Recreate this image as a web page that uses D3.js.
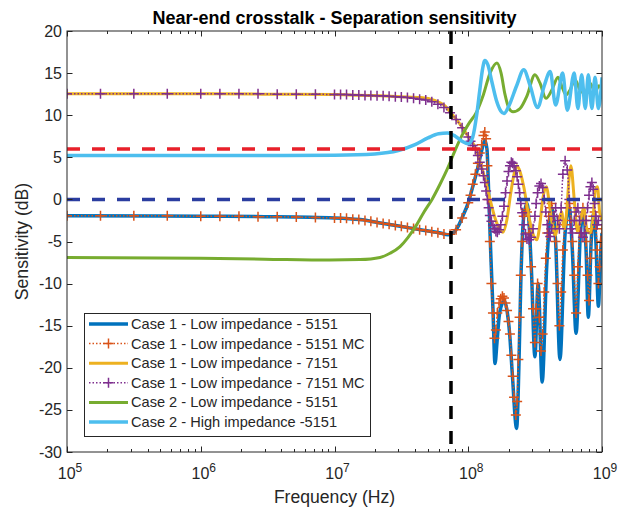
<!DOCTYPE html>
<html><head><meta charset="utf-8">
<script src="https://cdn.jsdelivr.net/npm/d3@7"></script>
<style>body{margin:0;background:#fff}svg{display:block}text{font-family:"Liberation Sans",Arial,Helvetica,sans-serif;fill:#262626}</style>
</head><body><svg id="c" width="626" height="513"></svg>
<script>
// ---------- data ----------
const titleText = "Near-end crosstalk - Separation sensitivity";
const xLabel = "Frequency (Hz)";
const yLabel = "Sensitivity (dB)";
const yTicks = [-30,-25,-20,-15,-10,-5,0,5,10,15,20];
const xDecades = [1e5,1e6,1e7,1e8,1e9];
const xDecadeExp = ["5","6","7","8","9"];
const seriesNames = [
  "Case 1 - Low impedance - 5151",
  "Case 1 - Low impedance - 5151 MC",
  "Case 1 - Low impedance - 7151",
  "Case 1 - Low impedance - 7151 MC",
  "Case 2 - Low impedance - 5151",
  "Case 2 - High impedance -5151"
];
const refLevelRed = 6;
const refLevelBlue = 0;
const refFreq = 7.43e7;

// Case 1 - 5151
const f1 = [1e5,1e6,3e6,1e7,1.55e7,2.2e7,3.1e7,4.4e7,6.2e7,7.06e7,7.7e7,8.4e7,9.1e7,9.95e7,1.08e8,1.18e8,1.26e8,1.33e8,1.38e8,1.42e8,1.47e8,1.53e8,1.585e8,1.64e8,1.7e8,1.8e8,1.85e8,1.94e8,2.04e8,2.14e8,2.3e8,2.39e8,2.47e8,2.6e8,2.75e8,2.96e8,3.15e8,3.33e8,3.57e8,3.86e8,4.2e8,4.5e8,4.85e8,5.3e8,5.7e8,6.0e8,6.4e8,6.9e8,7.3e8,7.6e8,7.9e8,8.3e8,8.7e8,9.0e8,9.4e8,9.8e8,1e9];
const v1 = [-1.95,-2.0,-2.05,-2.2,-2.4,-2.8,-3.2,-3.6,-4.0,-4.2,-4.0,-3.2,-2.0,-0.5,1.5,3.8,5.8,7.0,6.0,1.0,-6,-13,-19.5,-17,-14,-12.3,-12,-13,-16,-21,-27.2,-20,-10,-2,-0.5,-8,-18.7,-10,-21.7,-8,-1,-5,-19,-4,-1,-6,-15.9,-4,-1.5,-6,-14,-5,-1.5,-5,-12.7,-6,-4];

// MC sample frequencies (markers)
const fMC = [1e5,1.78e5,3.16e5,5.62e5,1e6,1.39e6,1.93e6,2.68e6,3.73e6,5.18e6,7.2e6,1e7,
  1.11e7,1.23e7,1.37e7,1.52e7,1.69e7,1.87e7,2.08e7,2.31e7,2.56e7,2.85e7,3.16e7,3.51e7,3.9e7,4.33e7,4.81e7,5.34e7,5.93e7,6.58e7,7.31e7,8.11e7,9.0e7,1e8,
  1.04e8,1.08e8,1.13e8,1.18e8,1.22e8,1.26e8,1.3e8,1.33e8,1.36e8,1.39e8,1.42e8,1.45e8,1.49e8,1.53e8,1.57e8,1.61e8,1.65e8,1.7e8,1.75e8,1.8e8,1.85e8,1.9e8,1.95e8,2.0e8,2.05e8,2.1e8,2.15e8,2.2e8,2.27e8,2.32e8,2.37e8,2.42e8,2.47e8,2.53e8,2.6e8,2.68e8,2.75e8,2.85e8,2.95e8,3.05e8,3.15e8,3.22e8,3.3e8,3.4e8,3.5e8,3.6e8,3.7e8,3.8e8,3.9e8,4.0e8,4.1e8,4.2e8,4.35e8,4.5e8,4.65e8,4.8e8,4.95e8,5.1e8,5.3e8,5.5e8,5.7e8,5.85e8,6.0e8,6.2e8,6.4e8,6.6e8,6.8e8,7.0e8,7.2e8,7.4e8,7.6e8,7.8e8,8.0e8,8.2e8,8.4e8,8.6e8,8.8e8,9.0e8,9.2e8,9.4e8,9.6e8,9.8e8,1e9];
// Case 1 - 5151 MC
const v2 = [-1.95,-1.95,-1.95,-1.95,-2.0,-2.0,-2.0,-2.05,-2.05,-2.1,-2.15,-2.2,
  -2.2,-2.25,-2.35,-2.4,-2.5,-2.6,-2.75,-2.85,-2.95,-3.1,-3.2,-3.35,-3.45,-3.6,-3.7,-3.85,-3.95,-4.1,-4.15,-3.6,-2.2,-0.4,
  0.5,1.8,3.0,4.3,5.5,6.5,7.6,8.0,7.2,4,0,-5,-10,-13.5,-16.5,-15.5,-13.5,-12.3,-11.8,-11.5,-11.7,-12.3,-13.2,-14.5,-16,-18.5,-21,-23.5,-25.6,-24,-19,-14,-9,-5,-2,-1.2,-1.5,-4,-8,-13,-17,-13,-10,-14,-18,-16,-11,-7,-4,-2,-1,-0.5,-2,-5,-10,-15,-11,-6,-3,-1,-0.5,-2.5,-5,-9,-13.5,-8,-4,-2,-1,-2.5,-5,-9,-12,-7,-3.5,-2,-1.5,-3,-6,-10,-8,-5,-3.5];

// Case 1 - 7151
const f3 = [1e5,1e6,3e6,1e7,1.3e7,2.2e7,3.1e7,4.4e7,5.6e7,6.7e7,7.4e7,8.7e7,9.95e7,1.13e8,1.22e8,1.33e8,1.455e8,1.585e8,1.7e8,1.82e8,1.94e8,2.08e8,2.2e8,2.3e8,2.4e8,2.6e8,2.8e8,3.03e8,3.25e8,3.43e8,3.6e8,3.85e8,4.0e8,4.2e8,4.48e8,4.75e8,5.0e8,5.2e8,5.4e8,5.7e8,5.85e8,6.2e8,6.55e8,6.9e8,7.3e8,7.7e8,8.1e8,8.6e8,8.9e8,9.25e8,9.6e8,1e9];
const v3 = [12.55,12.55,12.5,12.45,12.4,12.3,12.2,12.1,11.75,11.1,10.3,8.9,7.5,6.1,4.5,2.5,0,-2.2,-3.4,-3.9,-2.5,0.8,3.0,4.0,3.6,1.5,-1.5,-4.0,-4.8,-3,0,1.5,0,-2.5,-4.3,-2.5,-1.5,-3.5,-2,2.8,4.0,0,-3.8,-2.5,-1,-3.5,-4,-2,1,1.5,-1.5,-2.5];

// Case 1 - 7151 MC
const v4 = [12.55,12.55,12.55,12.55,12.55,12.55,12.55,12.55,12.5,12.5,12.5,12.45,
  12.45,12.45,12.4,12.4,12.35,12.35,12.3,12.3,12.25,12.2,12.15,12.1,12.0,11.9,11.8,11.6,11.3,10.9,10.3,9.5,8.5,7.4,
  6.9,6.4,5.9,5.2,4.4,3.6,2.8,2,1,0,-1,-1.9,-2.6,-3.1,-3.5,-3.8,-3.9,-3.6,-3,-2,-0.8,0.8,2.2,3.3,4,4.4,4.3,4,3.4,2.7,1.8,0.8,-0.5,-1.6,-3,-4.1,-4.7,-4.8,-4.5,-3.5,-2,-0.5,0.8,1.6,1.9,1.4,0,-1.5,-3,-4,-4.4,-3.5,-2,-1,-2.5,-3.5,-1,3,4.6,3.5,0,-3.5,-4,-2.5,-1.5,-1,-2.5,-4,-4.5,-4,-2.5,-1,0.5,1.5,2,1.2,-0.5,-2,-3,-2.5];

// Case 2 - Low impedance 5151
const f5 = [1e5,1e6,3e6,9.25e6,1.55e7,2.19e7,2.6e7,3.09e7,3.55e7,4.12e7,4.67e7,5.36e7,6.15e7,7.06e7,7.96e7,8.98e7,1.01e8,1.156e8,1.29e8,1.455e8,1.64e8,1.76e8,1.88e8,2.02e8,2.16e8,2.44e8,2.75e8,3.15e8,3.44e8,3.81e8,4.22e8,4.69e8,5.02e8,5.38e8,5.77e8,6.28e8,6.85e8,7.47e8,8.13e8,8.87e8,9.5e8,1e9];
const v5 = [-6.9,-7.0,-7.1,-7.2,-7.15,-6.9,-6.4,-5.6,-4.5,-3.0,-1.5,0,1.8,3.8,5.8,7.6,9.0,10.4,12.3,15,16.2,15,12.5,10.8,10.4,10.8,12.3,14.8,13.8,12,13,14.5,13.4,12.4,13,14.2,13,12.6,13.8,12.8,13.5,13];

// Case 2 - High impedance 5151
const f6 = [1e5,1e6,3e6,1e7,2e7,3e7,4e7,5e7,6e7,7e7,8e7,9e7,1e8,1.08e8,1.16e8,1.22e8,1.28e8,1.33e8,1.4e8,1.5e8,1.62e8,1.75e8,1.85e8,2.0e8,2.3e8,2.6e8,2.9e8,3.3e8,3.7e8,4.1e8,4.5e8,5.08e8,5.5e8,6.2e8,6.6e8,7.05e8,7.5e8,7.9e8,8.4e8,8.87e8,9.4e8,1e9];
const v6 = [5.2,5.2,5.2,5.25,5.4,5.8,6.5,7.3,7.8,7.9,7.5,6.9,6.6,7.4,10.2,13,15.5,16.5,16,14,11.8,10.5,10.2,11,13.5,15.4,13.5,10.9,13.5,15.2,11.2,15,10.6,15,10.8,14.8,10.8,14.8,10.8,14.5,10.8,14.5];

// ---------- chart ----------
const svg = d3.select("#c");
const L = 67, R = 602, T = 31, B = 452;
const x = d3.scaleLog().domain([1e5,1e9]).range([L,R]);
const y = d3.scaleLinear().domain([-30,20]).range([B,T]);
const axisColor = "#262626";

svg.append("rect").attr("width",626).attr("height",513).attr("fill","#fff");
svg.append("defs").append("clipPath").attr("id","clip").append("rect")
  .attr("x",L).attr("y",T).attr("width",R-L).attr("height",B-T);

const zip = (f,v)=>f.map((d,i)=>[d,v[i]]);
const series = [
  {name:seriesNames[0], data:zip(f1,v1), color:"#0072BD", w:3.5, dash:null, marker:false},
  {name:seriesNames[1], data:zip(fMC,v2), color:"#D95319", w:1.5, dash:"1.5,2", marker:true},
  {name:seriesNames[2], data:zip(f3,v3), color:"#EDB120", w:3, dash:null, marker:false},
  {name:seriesNames[3], data:zip(fMC,v4), color:"#7E2F8E", w:1.5, dash:"1.5,2", marker:true},
  {name:seriesNames[4], data:zip(f5,v5), color:"#77AC30", w:3, dash:null, marker:false},
  {name:seriesNames[5], data:zip(f6,v6), color:"#4DBEEE", w:3.5, dash:null, marker:false}
];

const plot = svg.append("g").attr("clip-path","url(#clip)");
const line = d3.line().x(d=>x(d[0])).y(d=>y(d[1])).curve(d3.curveMonotoneX);
const plusPath = s => `M${-s},0H${s}M0,${-s}V${s}`;

series.forEach(s=>{
  const p = plot.append("path").datum(s.data).attr("d",line)
    .attr("fill","none").attr("stroke",s.color).attr("stroke-width",s.w)
    .attr("stroke-linejoin","round");
  if (s.dash) p.attr("stroke-dasharray",s.dash);
  if (s.marker) {
    plot.append("g").selectAll("path").data(s.data).join("path")
      .attr("transform",d=>`translate(${x(d[0])},${y(d[1])})`)
      .attr("d",plusPath(5)).attr("stroke",s.color).attr("stroke-width",1.5).attr("fill","none");
  }
});

// reference lines
plot.append("line").attr("x1",L).attr("x2",R).attr("y1",y(refLevelRed)).attr("y2",y(refLevelRed))
  .attr("stroke","#E8202A").attr("stroke-width",3.5).attr("stroke-dasharray","13,12");
plot.append("line").attr("x1",L).attr("x2",R).attr("y1",y(refLevelBlue)).attr("y2",y(refLevelBlue))
  .attr("stroke","#2B3DA0").attr("stroke-width",3.5).attr("stroke-dasharray","13,12");
plot.append("line").attr("x1",x(refFreq)).attr("x2",x(refFreq)).attr("y1",T).attr("y2",B)
  .attr("stroke","#000").attr("stroke-width",3.5).attr("stroke-dasharray","13,12");

// axes box and ticks
const ax = svg.append("g").attr("stroke",axisColor).attr("stroke-width",1).attr("fill","none");
ax.append("rect").attr("x",L).attr("y",T).attr("width",R-L).attr("height",B-T);
const majLen = 5.5, minLen = 3;
yTicks.forEach(t=>{
  const yy = Math.round(y(t))+0.5;
  ax.append("line").attr("x1",L).attr("x2",L+majLen).attr("y1",yy).attr("y2",yy);
  ax.append("line").attr("x1",R).attr("x2",R-majLen).attr("y1",yy).attr("y2",yy);
});
const xTickVals = x.ticks();
xTickVals.forEach(t=>{
  const isMajor = xDecades.includes(t);
  const len = isMajor ? majLen : minLen;
  const xx = Math.round(x(t))+0.5;
  ax.append("line").attr("x1",xx).attr("x2",xx).attr("y1",B).attr("y2",B-len);
  ax.append("line").attr("x1",xx).attr("x2",xx).attr("y1",T).attr("y2",T+len);
});

// tick labels
yTicks.forEach(t=>{
  svg.append("text").attr("x",L-5).attr("y",y(t)+5.5).attr("text-anchor","end")
    .attr("font-size",16).text(t);
});
xDecades.forEach((t,i)=>{
  const tx = svg.append("text").attr("x",x(t)+3).attr("y",479).attr("text-anchor","middle").attr("font-size",16);
  tx.append("tspan").text("10");
  tx.append("tspan").attr("dy",-7).attr("font-size",12).text(xDecadeExp[i]);
});

// labels
svg.append("text").attr("x",(L+R)/2).attr("y",503).attr("text-anchor","middle").attr("font-size",17.6).text(xLabel);
svg.append("text").attr("transform",`translate(28,${(T+B)/2}) rotate(-90)`).attr("text-anchor","middle")
  .attr("font-size",17.6).text(yLabel);
svg.append("text").attr("x",(L+R)/2).attr("y",23.5).attr("text-anchor","middle").attr("font-size",18)
  .attr("font-weight","bold").style("fill","#000").text(titleText);

// legend
const lg = svg.append("g");
const lgX = 84, lgY = 313, rowH = 19.6, lgW = 286, lgH = 123;
lg.append("rect").attr("x",lgX+0.5).attr("y",lgY+0.5).attr("width",lgW).attr("height",lgH)
  .attr("fill","#fff").attr("stroke",axisColor).attr("stroke-width",1);
series.forEach((s,i)=>{
  const cy = lgY + 11 + i*rowH;
  const l = lg.append("line").attr("x1",lgX+5).attr("x2",lgX+44).attr("y1",cy).attr("y2",cy)
    .attr("stroke",s.color).attr("stroke-width",s.w);
  if (s.dash) l.attr("stroke-dasharray",s.dash);
  if (s.marker) lg.append("path").attr("transform",`translate(${lgX+24.5},${cy})`).attr("d",plusPath(5))
    .attr("stroke",s.color).attr("stroke-width",1.5);
  lg.append("text").attr("x",lgX+47).attr("y",cy+5).attr("font-size",14.6).text(s.name);
});
</script></body></html>
